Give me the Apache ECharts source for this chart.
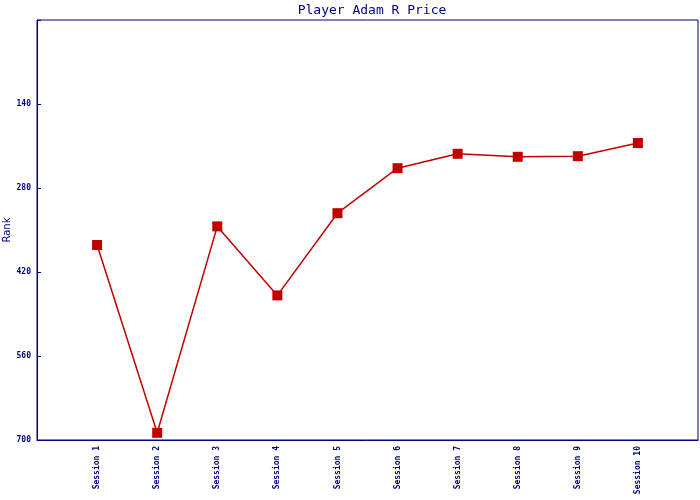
<!DOCTYPE html>
<html><head><meta charset="utf-8">
<script src="https://cdn.jsdelivr.net/npm/echarts@6/dist/echarts.min.js"></script>
<style>html,body{margin:0;padding:0;background:#fff}#c{width:700px;height:500px}</style>
</head><body><div id="c"></div>
<script>
const titleText = 'Player Adam R Price';
const categories = ['Session 1','Session 2','Session 3','Session 4','Session 5','Session 6','Session 7','Session 8','Session 9','Session 10'];
const ranks = [375, 688, 344, 459, 322, 247, 223, 228, 227, 205];
const yTicks = [0, 140, 280, 420, 560, 700];

const navy = '#000080';
const chart = echarts.init(document.getElementById('c'), null, {renderer: 'canvas'});
chart.setOption({
  animation: false,
  backgroundColor: '#ffffff',
  title: {
    text: titleText, left: 367, top: -1, textAlign: 'center',
    textStyle: {fontFamily: 'DejaVu Sans Mono', fontSize: 13, fontWeight: 'normal', color: navy}
  },
  grid: {left: 37, top: 20, right: 2, bottom: 60, containLabel: false, outerBoundsMode: 'none',
    show: true, borderColor: navy, borderWidth: 1, backgroundColor: 'transparent'},
  xAxis: {
    type: 'value', min: 0, max: categories.length + 1, interval: 1,
    axisLine: {show: true, onZero: false, lineStyle: {color: navy, width: 1}},
    axisTick: {show: false},
    splitLine: {show: false},
    axisLabel: {
      rotate: 90, margin: 6, color: navy, fontFamily: 'DejaVu Sans Mono', fontSize: 8, fontWeight: 'bold',
      formatter: v => (v >= 1 && v <= categories.length) ? categories[v - 1] : ''
    }
  },
  yAxis: {
    type: 'value', inverse: true, min: yTicks[0], max: yTicks[yTicks.length - 1], interval: 140,
    name: 'Rank', nameLocation: 'middle', nameGap: 25, nameRotate: 90, nameMoveOverlap: false,
    nameTextStyle: {color: navy, fontFamily: 'DejaVu Sans', fontSize: 10},
    axisLine: {show: true, lineStyle: {color: navy, width: 1}},
    axisTick: {show: true, inside: true, length: 4, lineStyle: {color: navy}},
    splitLine: {show: false},
    axisLabel: {
      color: navy, fontFamily: 'DejaVu Sans Mono', fontSize: 8, fontWeight: 'bold', margin: 6,
      formatter: v => (v === 0 ? '' : String(v))
    }
  },
  series: [{
    type: 'line',
    data: ranks.map((v, i) => [i + 1, v]),
    symbol: 'rect', symbolSize: 10,
    lineStyle: {color: '#c00000', width: 1.5},
    itemStyle: {color: '#c00000'}
  }]
});
</script></body></html>
